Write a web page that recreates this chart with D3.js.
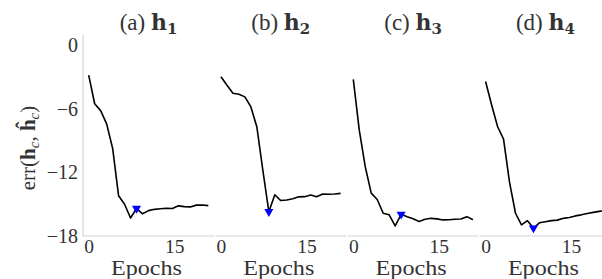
<!DOCTYPE html>
<html><head><meta charset="utf-8">
<script src="https://cdn.jsdelivr.net/npm/d3@7"></script>
<style>
html,body{margin:0;padding:0;background:#fff;}
svg{display:block;}
text{font-family:"Liberation Serif","DejaVu Serif",serif;fill:#333;}
</style></head>
<body>
<svg id="chart" width="602" height="279"></svg>
<script>
// ---- data ----
const panelLetters = ["a", "b", "c", "d"];
const panelSubs = ["1", "2", "3", "4"];
const epochs = [0, 1.05, 2.1, 3.15, 4.2, 5.25, 6.3, 7.35, 8.4, 9.45, 10.5, 11.55, 12.6, 13.65, 14.7, 15.75, 16.8, 17.85, 18.9, 19.95, 21];
const errH1 = [-2.8, -5.5, -6.15, -7.4, -9.7, -14.2, -15.0, -16.3, -15.4, -15.9, -15.6, -15.48, -15.42, -15.38, -15.4, -15.15, -15.22, -15.25, -15.08, -15.07, -15.13];
const errH2 = [-2.95, -3.75, -4.5, -4.6, -4.85, -5.8, -7.7, -11.8, -15.7, -14.1, -14.65, -14.6, -14.47, -14.3, -14.28, -14.12, -14.28, -14.03, -14.06, -14.03, -13.97];
const errH3 = [-3.2, -8.0, -11.45, -13.95, -14.55, -15.85, -16.0, -17.05, -15.95, -16.17, -16.36, -16.62, -16.42, -16.33, -16.38, -16.48, -16.46, -16.42, -16.4, -16.17, -16.46];
const errH4 = [-3.4, -5.6, -7.65, -8.85, -12.9, -15.85, -16.95, -16.55, -17.25, -16.75, -16.65, -16.55, -16.5, -16.33, -16.25, -16.1, -16.0, -15.87, -15.77, -15.67, -15.6];
const series = [errH1, errH2, errH3, errH4];
const markerIndex = [8, 8, 8, 8];
const yTicks = [0, -6, -12, -18];
const xTicks = [0, 15];
const yDomain = [-18, 1];
const xDomain = [-1, 22];

// ---- layout ----
const svg = d3.select("#chart");
const left0 = 83, step = 132.3, pw = 131, plotTop = 35, plotBottom = 236;
const y = d3.scaleLinear().domain(yDomain).range([plotBottom, plotTop]);
const boldFont = '"DejaVu Serif", "Liberation Serif", serif';

series.forEach((vals, i) => {
  const x0 = left0 + i * step;
  const x = d3.scaleLinear().domain(xDomain).range([x0, x0 + pw]);
  const g = svg.append("g");

  g.append("line").attr("x1", x0).attr("x2", x0 + pw).attr("y1", plotBottom).attr("y2", plotBottom)
    .attr("stroke", "#d4d4d4").attr("stroke-width", 1.2);
  if (i === 0) {
    g.append("line").attr("x1", x0).attr("x2", x0).attr("y1", plotTop).attr("y2", plotBottom)
      .attr("stroke", "#d4d4d4").attr("stroke-width", 1.2);
    const ya = d3.axisLeft(y).tickValues(yTicks).tickSize(0).tickPadding(5)
      .tickFormat(d => d < 0 ? "\u2212" + Math.abs(d) : d);
    const yg = g.append("g").attr("transform", `translate(${x0},0)`).call(ya);
    yg.select(".domain").remove();
    yg.selectAll("text").style("font-size", "20px").attr("fill", "#333")
      .style("font-family", '"Liberation Serif", serif');
  }
  const xa = d3.axisBottom(x).tickValues(xTicks).tickSize(0).tickPadding(3).tickFormat(d3.format("d"));
  const xg = g.append("g").attr("transform", `translate(0,${plotBottom})`).call(xa);
  xg.select(".domain").remove();
  xg.selectAll("text").style("font-size", "19.5px").attr("fill", "#333")
    .style("font-family", '"Liberation Serif", serif');

  g.append("text").attr("x", x0 + pw / 2 - 2).attr("y", 275).attr("text-anchor", "middle")
    .style("font-size", "21px").attr("textLength", 71).attr("lengthAdjust", "spacingAndGlyphs")
    .text("Epochs");

  const t = g.append("text").attr("x", x0 + pw / 2).attr("y", 30).attr("text-anchor", "middle")
    .style("font-size", "23px");
  t.append("tspan").text("(" + panelLetters[i] + ") ");
  t.append("tspan").attr("font-weight", "bold").style("font-family", boldFont).style("font-size", "22px").text("h");
  t.append("tspan").attr("font-weight", "bold").style("font-family", boldFont).style("font-size", "15px").attr("dy", 4).text(panelSubs[i]);

  const line = d3.line().x((d, j) => x(epochs[j])).y(d => y(d));
  g.append("path").datum(vals).attr("d", line).attr("fill", "none")
    .attr("stroke", "#000").attr("stroke-width", 1.6).attr("stroke-linejoin", "round");

  const mi = markerIndex[i];
  const mx = x(epochs[mi]), my = y(vals[mi]);
  g.append("path").attr("d", d3.symbol().type(d3.symbolTriangle).size(36)())
    .attr("transform", `translate(${mx},${my}) rotate(180)`).attr("fill", "#0000ff");
});

const yl = svg.append("text").attr("transform", "translate(35,148) rotate(-90)")
  .attr("text-anchor", "middle").style("font-size", "21px");
yl.append("tspan").text("err(");
yl.append("tspan").attr("font-weight", "bold").text("h");
yl.append("tspan").style("font-style", "italic").style("font-size", "15px").attr("dy", 4).text("c");
yl.append("tspan").attr("dy", -4).text(", ");
yl.append("tspan").attr("font-weight", "bold").text("\u0125");
yl.append("tspan").style("font-style", "italic").style("font-size", "15px").attr("dy", 4).text("c");
yl.append("tspan").attr("dy", -4).text(")");
</script>
</body></html>
